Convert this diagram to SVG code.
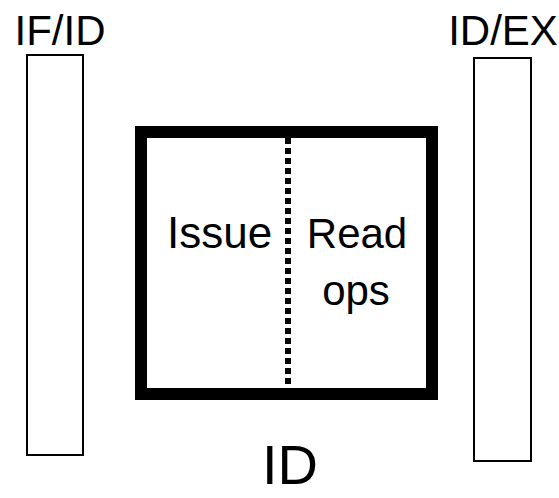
<svg xmlns="http://www.w3.org/2000/svg" width="559" height="498" viewBox="0 0 559 498">
<style>
text{font-family:"Liberation Sans",Arial,sans-serif;fill:#000}
.reg{fill:#fff;stroke:#000;stroke-width:2}
</style>
<rect width="559" height="498" fill="#fff"/>
<g id="ifid">
<rect class="reg" x="27" y="55" width="56" height="400"/>
<text x="60" y="45" font-size="42" text-anchor="middle">IF/ID</text>
</g>
<g id="idex">
<rect class="reg" x="474" y="58" width="57" height="403"/>
<text x="503" y="45" font-size="42" text-anchor="middle">ID/EX</text>
</g>
<g id="id-stage">
<rect x="141" y="132" width="291" height="262" fill="#fff" stroke="#000" stroke-width="12"/>
<text x="167" y="248" font-size="44">Issue</text>
<text x="357" y="248" font-size="42" text-anchor="middle">Read</text>
<text x="356" y="305" font-size="42" text-anchor="middle">ops</text>
<text x="290" y="484" font-size="56" text-anchor="middle">ID</text>
</g>
<g id="connectors">
<line x1="288" y1="138" x2="288" y2="388" stroke="#000" stroke-width="6" stroke-dasharray="6 4"/>
</g>
</svg>
